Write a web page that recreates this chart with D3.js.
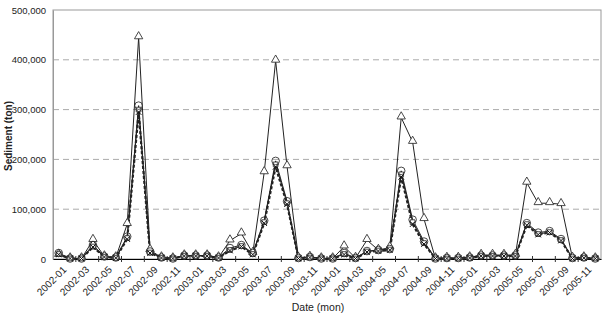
<!DOCTYPE html>
<html><head><meta charset="utf-8">
<script src="https://cdn.jsdelivr.net/npm/d3@7"></script>
<style>body{margin:0;background:#fff}svg{display:block}text{font-family:"Liberation Sans",Arial,sans-serif}</style>
</head><body>
<svg id="c" width="607" height="316"></svg>
<script>
const months = [];
for (let y = 2002; y <= 2005; y++) for (let m = 1; m <= 12; m++) months.push(y + "-" + String(m).padStart(2, "0"));
const yTicks = [0, 100000, 200000, 300000, 400000, 500000];
const seriesTriangle = [8000,1000,1000,38000,5000,3000,70000,445000,18000,3000,1000,7000,
  7000,7000,3000,37000,51000,12000,174000,398000,186000,2000,4000,1000,
  1000,25000,2000,38000,18000,23000,284000,235000,80000,1000,2000,2000,
  3000,8000,8000,8000,8000,153000,112000,112000,110000,2000,3000,1000];
const seriesCircle = [12000,1000,1000,28000,5000,3000,45000,308000,15000,3000,1000,7000,
  7000,7000,3000,22000,28000,12000,77000,197000,116000,2000,4000,1000,
  1000,12000,2000,16000,18000,20000,177000,79000,35000,1000,2000,2000,
  3000,7000,7000,7000,7000,72000,53000,56000,40000,2000,3000,1000];
const seriesSquare = [10000,1000,1000,25000,4000,2000,42000,300000,13000,2000,1000,6000,
  6000,6000,2000,18000,26000,10000,74000,190000,112000,1000,3000,1000,
  1000,10000,1000,15000,17000,19000,170000,74000,32000,1000,1000,1000,
  2000,6000,6000,6000,6000,70000,50000,54000,38000,1000,2000,1000];
const seriesCross = [9000,1000,1000,24000,4000,2000,40000,295000,12000,2000,1000,6000,
  6000,6000,2000,17000,25000,9000,72000,185000,110000,1000,3000,1000,
  1000,9000,1000,14000,16000,18000,165000,70000,30000,1000,1000,1000,
  2000,6000,6000,6000,6000,68000,49000,53000,37000,1000,2000,1000];

const svg = d3.select("#c");
const L = 53, R = 601, T = 10, B = 259;
const x = d3.scaleBand().domain(months).range([L, R]);
const y = d3.scaleLinear().domain([0, 500000]).range([B, T]);
const cx = d => x(d) + x.bandwidth() / 2;

// grid
svg.append("g").selectAll("line").data(yTicks.filter(v => v > 0 && v < 500000)).join("line")
  .attr("x1", L).attr("x2", R).attr("y1", d => y(d)).attr("y2", d => y(d))
  .attr("stroke", "#aaa").attr("stroke-dasharray", "6,4").attr("stroke-width", 1);
// frame
svg.append("rect").attr("x", L).attr("y", T).attr("width", R - L).attr("height", B - T)
  .attr("fill", "none").attr("stroke", "#999");

// y axis
const ya = svg.append("g").attr("transform", `translate(${L},0)`)
  .call(d3.axisLeft(y).tickValues(yTicks).tickFormat(d3.format(",")).tickSize(0).tickPadding(7));
ya.select(".domain").attr("stroke", "#999");
ya.selectAll("text").attr("font-size", 9.5).attr("fill", "#222");

// x axis
const xa = svg.append("g").attr("transform", `translate(0,${B})`)
  .call(d3.axisBottom(x).tickValues(months.filter((d, i) => i % 2 === 0)).tickSize(0).tickPadding(6));
xa.select(".domain").attr("stroke", "#000");
xa.selectAll("text").attr("font-size", 10).attr("fill", "#222")
  .attr("text-anchor", "end").attr("dy", "0.3em")
  .attr("transform", "translate(2,5) rotate(-45)");
// minor ticks at band boundaries
svg.append("g").selectAll("line").data(months.filter((d, i) => i % 2 === 0 && i > 0)).join("line")
  .attr("x1", d => x(d)).attr("x2", d => x(d)).attr("y1", B - 3).attr("y2", B + 3).attr("stroke", "#333");

const line = d3.line().x((d, i) => cx(months[i])).y(d => y(d));

function drawLine(data, opts) {
  svg.append("path").datum(data).attr("d", line).attr("fill", "none")
    .attr("stroke", "#222").attr("stroke-width", opts.w).attr("stroke-dasharray", opts.dash || null);
}
drawLine(seriesTriangle, {w: 1});
drawLine(seriesCircle, {w: 1});
drawLine(seriesSquare, {w: 1});
drawLine(seriesCross, {w: 2.2, dash: "3,2"});

const tri = d3.symbol().type(d3.symbolTriangle).size(30);
svg.append("g").selectAll("path").data(seriesTriangle).join("path")
  .attr("d", tri).attr("transform", (d, i) => `translate(${cx(months[i])},${y(d) - 1})`)
  .attr("fill", "#fff").attr("stroke", "#333").attr("stroke-width", 0.9);
svg.append("g").selectAll("path").data(seriesSquare).join("path")
  .attr("d", d3.symbol().type(d3.symbolSquare).size(22))
  .attr("transform", (d, i) => `translate(${cx(months[i])},${y(d)})`)
  .attr("fill", "#fff").attr("stroke", "#333").attr("stroke-width", 0.9);
svg.append("g").selectAll("circle").data(seriesCircle).join("circle")
  .attr("cx", (d, i) => cx(months[i])).attr("cy", d => y(d)).attr("r", 3.8)
  .attr("fill", "none").attr("stroke", "#333").attr("stroke-width", 0.9);
svg.append("g").selectAll("path").data(seriesCross).join("path")
  .attr("d", d3.symbol().type(d3.symbolX).size(22))
  .attr("transform", (d, i) => `translate(${cx(months[i])},${y(d)})`)
  .attr("fill", "none").attr("stroke", "#111").attr("stroke-width", 1);

// axis titles
svg.append("text").attr("transform", "translate(12,136) rotate(-90)").attr("text-anchor", "middle")
  .attr("font-size", 10).attr("font-weight", "bold").attr("fill", "#222").text("Sediment (ton)");
svg.append("text").attr("x", 318).attr("y", 311).attr("text-anchor", "middle")
  .attr("font-size", 10.5).attr("fill", "#222").text("Date (mon)");
</script>
</body></html>
